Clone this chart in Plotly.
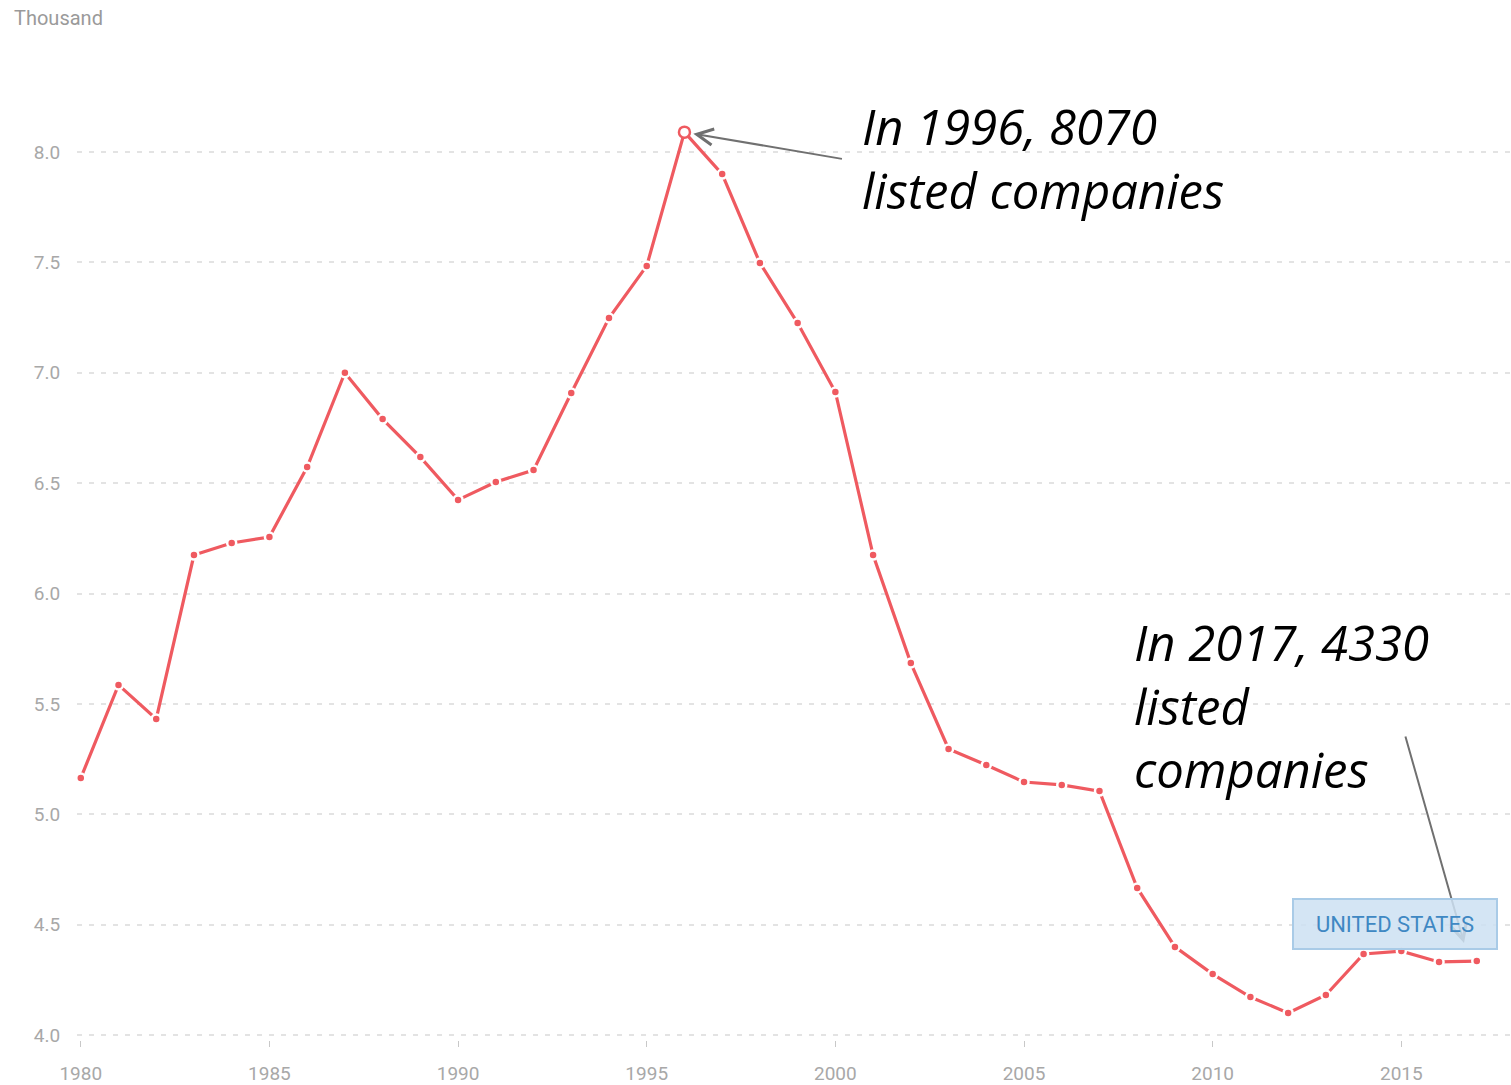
import plotly.graph_objects as go

years = list(range(1980, 2018))
listed_thousand = [5.164, 5.586, 5.432, 6.174, 6.229, 6.256, 6.573, 7.000, 6.790, 6.618,
                   6.424, 6.505, 6.559, 6.908, 7.248, 7.484, 8.090, 7.900, 7.497, 7.225,
                   6.913, 6.174, 5.685, 5.296, 5.223, 5.146, 5.133, 5.105, 4.666, 4.399,
                   4.276, 4.172, 4.100, 4.181, 4.367, 4.380, 4.331, 4.335]
y_ticks = [4.0, 4.5, 5.0, 5.5, 6.0, 6.5, 7.0, 7.5, 8.0]
x_ticks = [1980, 1985, 1990, 1995, 2000, 2005, 2010, 2015]
peak_year, peak_value = 1996, 8.090

W, H = 1511, 1085
L, R, T, B = 77, 0, 40, 45
PW, PH = W - L - R, H - T - B

def px(x):
    return (x - L) / PW

def py(y):
    return (H - B - y) / PH

RED = "#ef5a60"
NARROW = "Roboto, sans-serif"
ITAL = "Open Sans, sans-serif"

fig = go.Figure()
fig.add_trace(go.Scatter(
    x=years, y=listed_thousand, mode="lines+markers",
    line=dict(color=RED, width=3.2),
    marker=dict(size=9, color=RED, line=dict(color="white", width=2.5)),
    hoverinfo="skip", showlegend=False,
))
fig.add_trace(go.Scatter(
    x=[peak_year], y=[peak_value], mode="markers",
    marker=dict(size=11, color="white", line=dict(color=RED, width=2.5)),
    hoverinfo="skip", showlegend=False,
))

ann = []
ann.append(dict(xref="paper", yref="paper", x=px(12), y=py(18), xanchor="left", yanchor="middle",
                text="Thousand", showarrow=False, font=dict(family=NARROW, size=20, color="#9a9a9a")))
ann.append(dict(xref="paper", yref="paper", x=px(860), y=py(158), xanchor="left", yanchor="middle",
                align="left", text="<i>In 1996, 8070<br>listed companies</i>", showarrow=False,
                font=dict(family=ITAL, size=49, color="black")))
ann.append(dict(xref="paper", yref="paper", x=px(1132), y=py(705), xanchor="left", yanchor="middle",
                align="left", text="<i>In 2017, 4330<br>listed<br>companies</i>", showarrow=False,
                font=dict(family=ITAL, size=49, color="black")))
# arrows
ann.append(dict(x=peak_year, y=peak_value, xref="x", yref="y", text="", showarrow=True,
                ax=159, ay=27, arrowhead=5, arrowsize=1.6, arrowwidth=2, arrowcolor="#707070", standoff=9))
ann.append(dict(xref="paper", yref="paper", x=px(1464), y=py(943), text="", showarrow=True,
                ax=-59, ay=-208, arrowhead=5, arrowsize=1.6, arrowwidth=2, arrowcolor="#707070"))
# series label box
ann.append(dict(xref="paper", yref="paper", x=px(1394.5), y=py(923.5), xanchor="center", yanchor="middle",
                text="UNITED STATES", showarrow=False, width=200, height=46,
                bgcolor="rgba(205,225,242,0.85)", bordercolor="#a9cbe7", borderwidth=2,
                font=dict(family=NARROW, size=22, color="#3f88c3")))

fig.update_layout(
    width=W, height=H, margin=dict(l=L, r=R, t=T, b=B, pad=0),
    paper_bgcolor="white", plot_bgcolor="white",
    annotations=ann,
    xaxis=dict(range=[1979.9, 1979.9 + PW / 37.73], tickvals=x_ticks, showgrid=False, zeroline=False,
               ticks="outside", ticklen=6, tickwidth=1, tickcolor="#c8c8c8", showline=False,
               ticklabelstandoff=10,
               tickfont=dict(family=NARROW, size=19, color="#a8a8a8")),
    yaxis=dict(range=[8 - (H - B - 152) / 220.75, 8 + (152 - T) / 220.75], tickvals=y_ticks,
               tickformat=".1f", showgrid=True, gridcolor="#e3e3e3", gridwidth=2, griddash="5px,7px",
               zeroline=False, showline=False, ticks="outside", ticklen=12, tickcolor="rgba(0,0,0,0)",
               tickfont=dict(family=NARROW, size=19, color="#a8a8a8")),
)
fig.write_html("out.html")
